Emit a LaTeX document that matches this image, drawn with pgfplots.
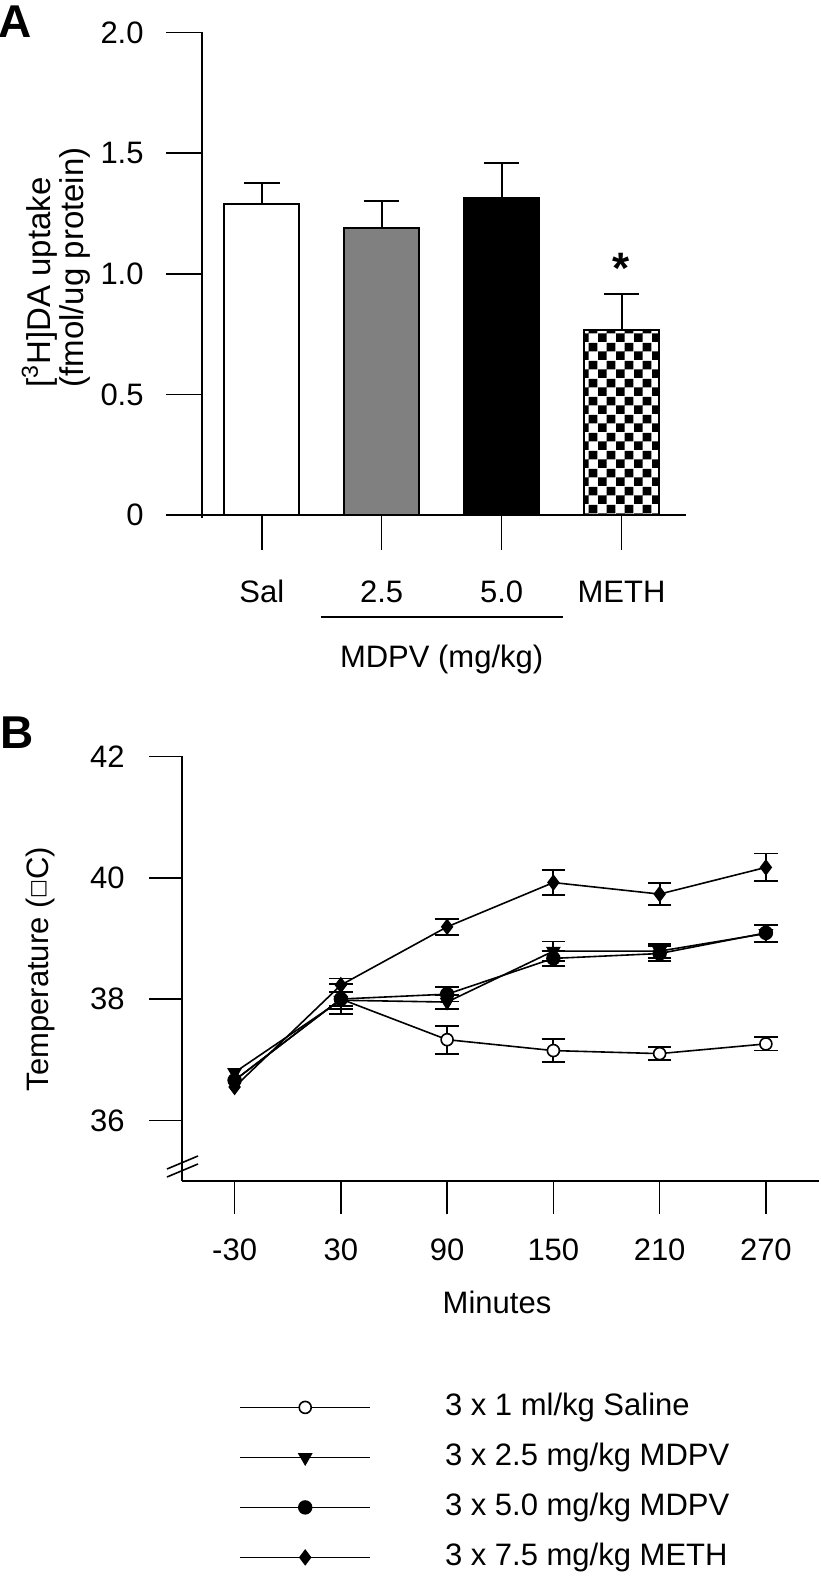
\documentclass[border=0pt]{standalone}
\usepackage{fontspec}
\setmainfont{Liberation Sans}
\newfontfamily\dejavu{DejaVu Sans}
\usepackage{pgfplots}
\usepackage{pgfplotstable}
\pgfplotsset{compat=1.18}
\usetikzlibrary{patterns}

\pgfdeclarepatternformonly{bigcheck}{\pgfpointorigin}{\pgfqpoint{8.8pt}{8.8pt}}{\pgfqpoint{8.8pt}{8.8pt}}{%
  \pgfpathrectangle{\pgfpointorigin}{\pgfqpoint{4.4pt}{4.4pt}}%
  \pgfpathrectangle{\pgfqpoint{4.4pt}{4.4pt}}{\pgfqpoint{4.4pt}{4.4pt}}%
  \pgfusepath{fill}}

\pgfplotstableread{
t    sal   sale  mA    mAe   mB    mBe   meth  methe
-30  36.66 0.05  36.79 0.05  36.66 0.05  36.55 0.05
30   38.00 0.25  37.98 0.14  38.00 0.12  38.23 0.11
90   37.33 0.23  37.95 0.12  38.08 0.12  39.19 0.13
150  37.15 0.19  38.79 0.16  38.67 0.12  39.92 0.21
210  37.10 0.11  38.79 0.12  38.75 0.12  39.73 0.18
270  37.26 0.11  39.08 0.14  39.09 0.14  40.17 0.23
}\tempdata

\pgfplotsset{
  errB/.style={forget plot, black, only marks, mark=none, skip coords between index={0}{1},
    error bars/.cd, y dir=both, y explicit, error bar style={line width=0.9pt},
    error mark options={rotate=90, mark size=5.9pt, line width=0.9pt}},
}

\begin{document}
\begin{tikzpicture}[font=\fontsize{15.5}{18}\selectfont]
\useasboundingbox (0,0) rectangle (410pt,789pt);

% ---------------- Panel A ----------------
\begin{axis}[
  at={(100.85pt,531.5pt)}, anchor=south west,
  scale only axis, width=242.15pt, height=241.25pt,
  xmin=-0.501, xmax=3.538, ymin=0, ymax=2,
  axis x line=bottom, axis y line=left,
  axis line style={-, line width=0.8pt},
  x axis line style={shorten <=-17.6pt},
  y axis line style={shorten <=-1.5pt},
  tick align=outside, major tick length=17.6pt,
  tick style={line width=0.8pt, black},
  xtick={0,1,2,3}, xticklabels={Sal,2.5,5.0,METH},
  ytick={0,0.5,1,1.5,2}, yticklabels={0,0.5,1.0,1.5,2.0},
  xticklabel style={anchor=base, inner sep=0pt, yshift=-26pt},
  yticklabel style={anchor=east, inner sep=0pt, xshift=-11.25pt},
  clip=false,
]
\addplot[ybar, bar width=0.625, bar shift=0pt, fill=white, draw=black, line width=1pt,
  error bars/.cd, y dir=plus, y explicit, error bar style={line width=1pt},
  error mark options={rotate=90, mark size=8.9pt, line width=1pt}]
  coordinates {(0,1.291) +- (0,0.087)};
\addplot[ybar, bar width=0.625, bar shift=0pt, fill=black!50, draw=black, line width=1pt,
  error bars/.cd, y dir=plus, y explicit, error bar style={line width=1pt},
  error mark options={rotate=90, mark size=8.9pt, line width=1pt}]
  coordinates {(1,1.189) +- (0,0.111)};
\addplot[ybar, bar width=0.625, bar shift=0pt, fill=black, draw=black, line width=1pt,
  error bars/.cd, y dir=plus, y explicit, error bar style={line width=1pt},
  error mark options={rotate=90, mark size=8.9pt, line width=1pt}]
  coordinates {(2,1.313) +- (0,0.144)};
\addplot[ybar, bar width=0.625, bar shift=0pt, pattern=bigcheck, draw=black, line width=1pt,
  error bars/.cd, y dir=plus, y explicit, error bar style={line width=1pt},
  error mark options={rotate=90, mark size=8.9pt, line width=1pt}]
  coordinates {(3,0.768) +- (0,0.147)};
\node[font=\fontsize{22}{22}\selectfont\bfseries, anchor=base, inner sep=0pt, yshift=-12.8pt] at (axis cs:3,1.067) {*};
\draw[line width=0.8pt] (axis cs:0.49,0) ++(0pt,-51pt) -- ++(121.1pt,0pt);
\node[anchor=center] at (axis cs:1.5,0) [yshift=-72pt] {MDPV (mg/kg)};
\end{axis}

\node[font=\fontsize{23}{23}\selectfont\bfseries] at (7.75pt,778pt) {A};
\node[rotate=90, align=left, font=\fontsize{16.5}{16.5}\selectfont] at (28pt,655.25pt)
  {[\textsuperscript{3}H]DA uptake\\(fmol/ug protein)};

% ---------------- Panel B ----------------
\begin{axis}[
  at={(91pt,198.5pt)}, anchor=south west,
  scale only axis, width=318.5pt, height=212.3pt,
  xmin=-59.7, xmax=300, ymin=35, ymax=42,
  axis x line=bottom, axis y line=left,
  axis line style={-, line width=0.8pt},
  tick align=outside, major tick length=16.5pt,
  tick style={line width=0.8pt, black},
  xtick={-30,30,90,150,210,270}, xticklabels={-30,30,90,150,210,270},
  ytick={36,38,40,42}, yticklabels={36,38,40,42},
  xticklabel style={anchor=base, inner sep=0pt, yshift=-23.25pt},
  yticklabel style={anchor=east, inner sep=0pt, xshift=-12pt},
  clip=false,
  legend cell align=left,
  legend style={draw=none, fill=none, at={(0.0895,-0.4993)}, anchor=north west,
    inner sep=0pt, row sep=11pt, column sep=37pt,
    nodes={inner sep=0pt, text height=11pt, text depth=3pt}},
  legend image code/.code={\draw[mark repeat=2, mark phase=2, #1] plot coordinates {(0pt,0pt) (32.5pt,0pt) (65pt,0pt)};},
]
% error bars (none shown at -30)
\addplot[errB] table[x=t, y=sal, y error=sale]{\tempdata};
\addplot[errB] table[x=t, y=mA, y error=mAe]{\tempdata};
\addplot[errB] table[x=t, y=mB, y error=mBe]{\tempdata};
\addplot[errB] table[x=t, y=meth, y error=methe]{\tempdata};
% series
\addplot[black, line width=0.8pt, mark=*, mark size=3pt, mark options={fill=white, draw=black, line width=0.8pt}]
  table[x=t, y=sal]{\tempdata};
\addlegendentry{3 x 1 ml/kg Saline}
\addplot[black, line width=0.8pt, mark=triangle*, mark size=3.5pt, mark options={rotate=180, fill=black}]
  table[x=t, y=mA]{\tempdata};
\addlegendentry{3 x 2.5 mg/kg MDPV}
\addplot[black, line width=0.8pt, mark=*, mark size=3.2pt, mark options={fill=black}]
  table[x=t, y=mB]{\tempdata};
\addlegendentry{3 x 5.0 mg/kg MDPV}
\addplot[black, line width=0.8pt, mark=diamond*, mark size=3.5pt, mark options={fill=black}]
  table[x=t, y=meth]{\tempdata};
\addlegendentry{3 x 7.5 mg/kg METH}
\draw[line width=0.8pt] (rel axis cs:0,0) ++(-7.5pt,6pt) -- ++(15.5pt,6.5pt);
\draw[line width=0.8pt] (rel axis cs:0,0) ++(-7.5pt,2pt) -- ++(15.5pt,6.5pt);
\end{axis}

\node[font=\fontsize{23}{23}\selectfont\bfseries] at (8.5pt,422.5pt) {B};
\node[rotate=90] at (20pt,304.5pt)
  {Temperature ({\dejavu\fontsize{10}{10}\selectfont\raisebox{0.35ex}{□}}C)};
\node at (248.5pt,138pt) {Minutes};
\end{tikzpicture}
\end{document}
